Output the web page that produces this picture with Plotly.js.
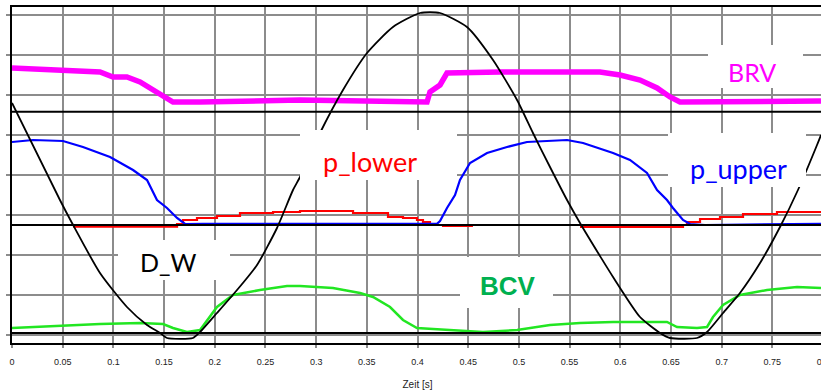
<!DOCTYPE html>
<html>
<head>
<meta charset="utf-8">
<script src="https://cdn.plot.ly/plotly-3.0.1.min.js"></script>
<style>
html,body{margin:0;padding:0;background:#fff;overflow:hidden;}
#chart{width:823px;height:391px;}
</style>
</head>
<body>
<div id="chart"></div>
<script>
// ---- data (time in s, value in grid divisions) ----
const dwX = [0,0.0473,0.0592,0.0868,0.1134,0.1332,0.146,0.1529,0.1785,0.1855,0.2022,0.222,0.2417,0.2614,0.2772,0.2841,0.3038,0.3265,0.3502,0.3758,0.4025,0.4222,0.4488,0.4745,0.4982,0.5139,0.5307,0.5475,0.5603,0.58,0.5929,0.6195,0.6392,0.6491,0.6757,0.6856,0.7014,0.7181,0.7379,0.7576,0.7753,0.7941,0.798];
const dwY = [5.8,3.375,2.8,1.55,0.7,0.25,0.05,-0.075,-0.075,0.075,0.55,1.125,1.75,2.675,3.625,3.95,5.05,6.125,7.05,7.7,8.05,8.05,7.7,6.875,5.875,5.05,4.2,3.375,2.8,1.975,1.45,0.45,0.05,-0.075,-0.075,0.075,0.55,1.05,1.8,2.7,3.625,4.75,5.0];

const brvX = [0,0.0503,0.0868,0.0996,0.1134,0.1263,0.1391,0.149,0.1588,0.1855,0.2841,0.4094,0.4123,0.4222,0.4291,0.4814,0.58,0.5998,0.6195,0.6363,0.6491,0.6589,0.798];
const brvY = [6.675,6.6,6.575,6.45,6.45,6.325,6.125,5.95,5.825,5.825,5.875,5.825,6.075,6.25,6.55,6.575,6.575,6.5,6.375,6.175,5.95,5.825,5.85];

const pUpperX = [0,0.0207,0.0503,0.07,0.0967,0.1194,0.1332,0.1381,0.143,0.1529,0.1628,0.1707,0.1884,0.4192,0.4222,0.4291,0.437,0.4419,0.4518,0.4686,0.4883,0.508,0.5475,0.5633,0.58,0.5929,0.6096,0.6264,0.6363,0.6461,0.652,0.6619,0.6688,0.6836,0.798];
const pUpperY = [4.825,4.875,4.85,4.7,4.45,4.125,3.875,3.625,3.375,3.175,2.925,2.775,2.78,2.78,2.85,3.175,3.5,3.875,4.3,4.55,4.7,4.825,4.875,4.8,4.65,4.55,4.375,4.05,3.625,3.375,3.175,2.875,2.775,2.75,2.78];

const pLowerX = [0.0602,0.1628,0.1687,0.1825,0.2022,0.2249,0.2575,0.2841,0.3354,0.3364,0.3709,0.3857,0.3995,0.4054,0.4123,0.4252,0.4547,0.50,0.5603,0.6619,0.6658,0.6787,0.6984,0.7211,0.7546,0.798];
const pLowerY = [2.71,2.775,2.875,2.925,2.975,3.05,3.075,3.1,3.1,3.05,2.95,2.925,2.875,2.825,2.75,2.725,2.725,null,2.7,2.75,2.825,2.9,2.95,3.025,3.075,3.1];

const bcvX = [0,0.0207,0.0543,0.0868,0.1263,0.149,0.1588,0.1726,0.1855,0.1924,0.2022,0.218,0.2446,0.2713,0.2841,0.3166,0.3433,0.3561,0.3729,0.3857,0.3995,0.4153,0.4646,0.4982,0.5307,0.5603,0.5929,0.6461,0.656,0.6757,0.6856,0.6915,0.7014,0.7181,0.7448,0.7744,0.798];
const bcvY = [0.175,0.2,0.25,0.275,0.3,0.275,0.175,0.075,0.125,0.375,0.7,1.0,1.125,1.225,1.225,1.175,1.05,0.95,0.7,0.375,0.175,0.15,0.075,0.125,0.25,0.3,0.325,0.325,0.2,0.175,0.2,0.45,0.75,1.0,1.125,1.2,1.175];

const baselines = [5.58, 2.75, 0.05];
const xTickVals = [0,0.05,0.1,0.15,0.2,0.25,0.3,0.35,0.4,0.45,0.5,0.55,0.6,0.65,0.7,0.75,0.8];
const xTickText = ["0","0.05","0.1","0.15","0.2","0.25","0.3","0.35","0.4","0.45","0.5","0.55","0.6","0.65","0.7","0.75","0.8"];
const labels = ["BRV","p_lower","p_upper","D_W","BCV"];

// ---- chart ----
const traces = [
  {x: bcvX, y: bcvY, mode:'lines', line:{color:'#22e622', width:2.5}, hoverinfo:'skip'},
  {x: pLowerX, y: pLowerY, mode:'lines', line:{color:'#ff0000', width:2.2, shape:'hv'}, connectgaps:false, hoverinfo:'skip'},
  {x: pUpperX, y: pUpperY, mode:'lines', line:{color:'#0000ff', width:2.2}, hoverinfo:'skip'},
  {x: brvX, y: brvY, mode:'lines', line:{color:'#ff00ff', width:5.5}, hoverinfo:'skip'},
  {x: dwX, y: dwY, mode:'lines', line:{color:'#000000', width:1.8, shape:'spline', smoothing:0.6}, hoverinfo:'skip'}
];

// white label boxes (pixel -> data helpers)
const px2x = p => (p-12)/1013.75;
const py2y = p => (343-p)/40 - 0.2;
function box(x0,x1,y0,y1){
  return {type:'rect', xref:'x', yref:'y', x0:px2x(x0), x1:px2x(x1), y0:py2y(y1), y1:py2y(y0),
          fillcolor:'#ffffff', line:{width:0}, layer:'above'};
}
const shapes = baselines.map(v => ({type:'line', xref:'paper', yref:'y', x0:0, x1:1, y0:v, y1:v,
  line:{color:'#000000', width:2}, layer:'above'}));
shapes.push(box(708,803,45,88));
shapes.push(box(300,457,130,180));
shapes.push(box(668,806,133,187));
shapes.push(box(118,230,240,280));
shapes.push(box(460,553,257,308));

function ann(text,px,py,color,size,family){
  return {text:text, x:px2x(px), y:py2y(py), xref:'x', yref:'y', showarrow:false,
          xanchor:'center', yanchor:'middle', font:{color:color, size:size, family:family}};
}
const annotations = [
  ann(labels[0],752,72,'#ff00ff',25,'Lato'),
  ann(labels[1],370,161,'#ff0000',27,'Lato'),
  ann(labels[2],738,168,'#0000ff',27,'Lato'),
  ann(labels[3],168,262,'#000000',25,'Lato'),
  ann('<b>'+labels[4]+'</b>',508,286,'#00b050',26,'Liberation Sans')
];

const layout = {
  width:823, height:391,
  margin:{l:12, r:0, t:7, b:48, pad:0},
  paper_bgcolor:'#ffffff', plot_bgcolor:'#ffffff',
  showlegend:false,
  xaxis:{
    range:[0,0.8], tickvals:xTickVals, ticktext:xTickText,
    showgrid:true, gridcolor:'#8c8c8c', gridwidth:2, zeroline:false,
    showline:true, linecolor:'#000000', linewidth:2, mirror:true,
    ticks:'outside', ticklen:3, tickcolor:'#8c8c8c', tickwidth:2,
    ticklabelstandoff:6, ticklabeloverflow:'allow',
    tickfont:{family:'Liberation Sans', size:9, color:'#222222'},
    title:{text:'Zeit [s]', font:{family:'Liberation Sans', size:10, color:'#222222'}, standoff:15},
    fixedrange:true
  },
  yaxis:{
    range:[-0.2,8.2], tick0:0, dtick:1,
    showgrid:true, gridcolor:'#8c8c8c', gridwidth:2, zeroline:false,
    showticklabels:false, showline:true, linecolor:'#000000', linewidth:2,
    ticks:'outside', ticklen:4, tickcolor:'#8c8c8c', tickwidth:2,
    fixedrange:true
  },
  shapes:shapes,
  annotations:annotations
};

Plotly.newPlot('chart', traces, layout, {displayModeBar:false, staticPlot:true});
</script>
</body>
</html>
